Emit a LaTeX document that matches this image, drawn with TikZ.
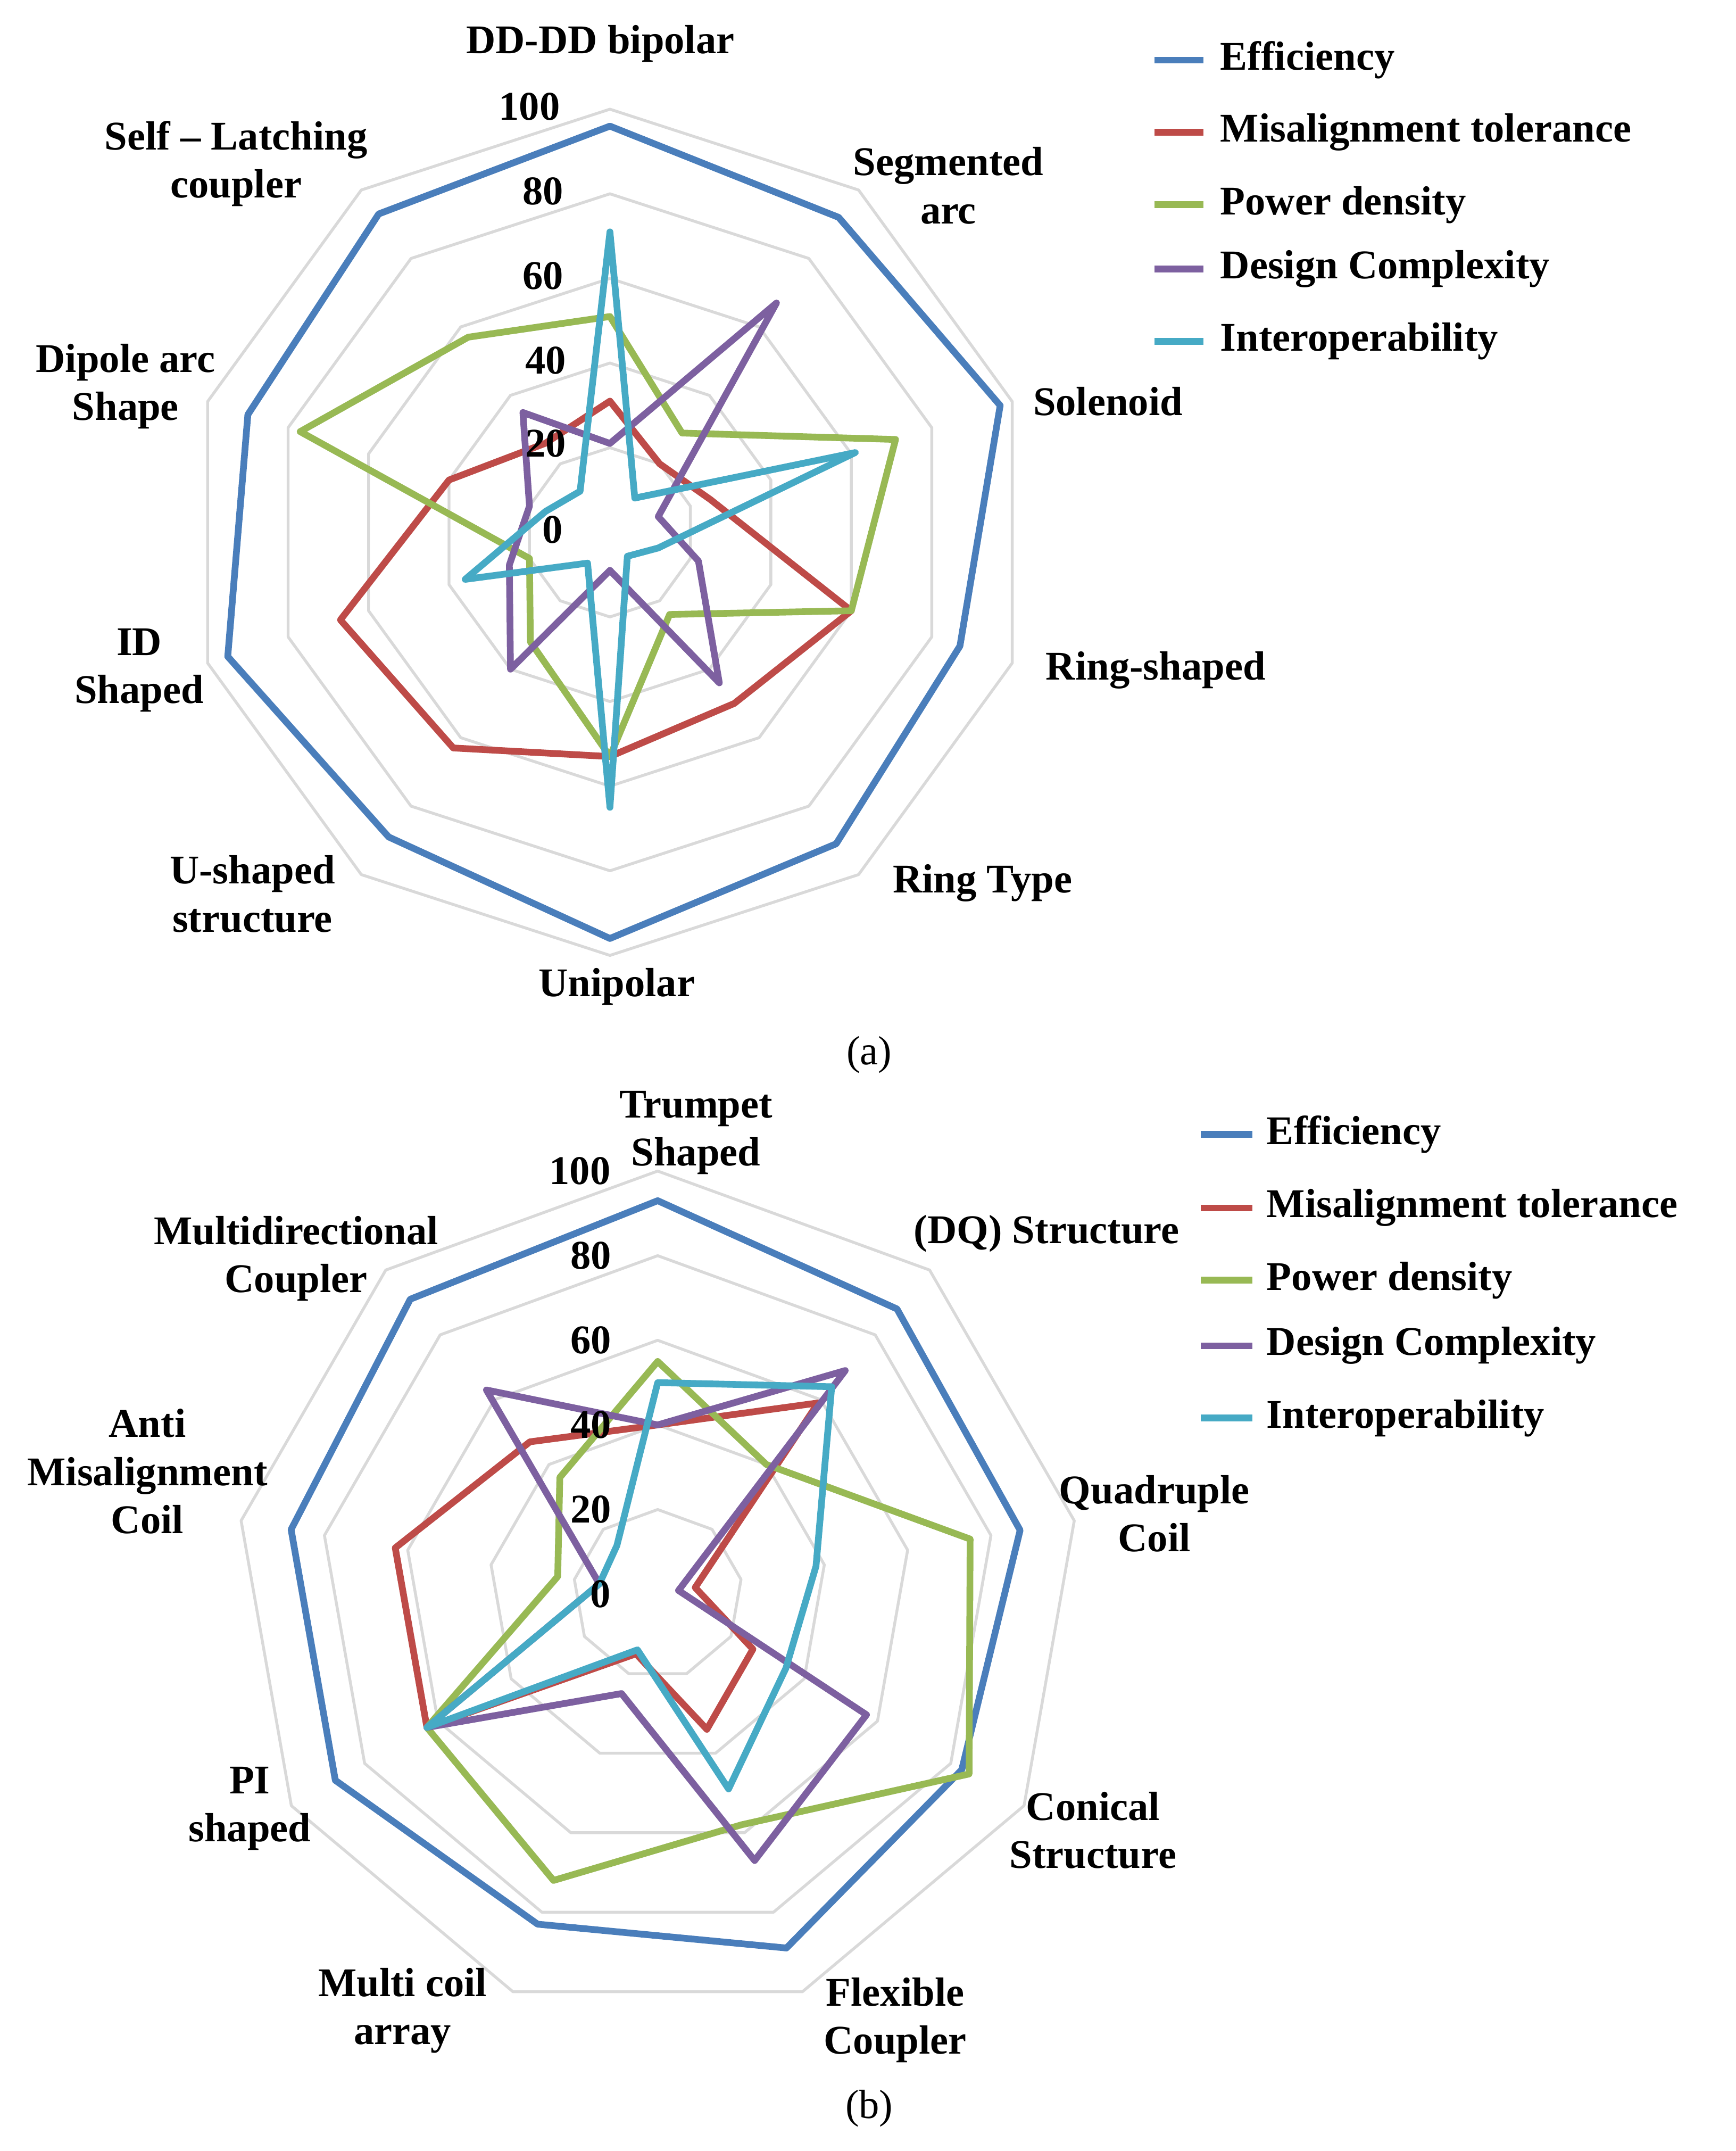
\documentclass[tikz,border=0pt]{standalone}
\usepackage{fontspec}
\setmainfont{Liberation Serif}
\begin{document}
\begin{tikzpicture}[x=0.02cm,y=-0.02cm,line join=round,
  lab/.style={font=\fontsize{17}{20}\selectfont\bfseries,align=center,inner sep=0},
  tick/.style={font=\fontsize{17}{20}\selectfont\bfseries,inner sep=0},
  grid/.style={draw=black!15,line width=1.2pt},
  eff/.style={draw=effc,line width=2.8pt},
  mis/.style={draw=misc,line width=2.8pt},
  pow/.style={draw=powc,line width=2.8pt},
  des/.style={draw=desc,line width=2.8pt},
  inter/.style={draw=intc,line width=2.8pt}]
\definecolor{effc}{HTML}{4A7EBB}
\definecolor{misc}{HTML}{BE4B48}
\definecolor{powc}{HTML}{98B954}
\definecolor{desc}{HTML}{7D60A0}
\definecolor{intc}{HTML}{46AAC5}
\newcommand\radarline[4]{%
 \foreach \v[count=\i from 0] in {#3}{\coordinate (p\i) at (\i*#2-90:\v*3.1);}
 \draw[#4] (p0) \foreach \j in {1,...,#1}{--(p\j)} -- cycle;}
\useasboundingbox (0,0) rectangle (1272,1576);
\fill[white] (0,0) rectangle (1272,1576);
% ---------- chart (a)
\begin{scope}[shift={(447,390)}]
 \foreach \r in {20,40,60,80,100}{\radarline{9}{36}{\r,\r,\r,\r,\r,\r,\r,\r,\r,\r}{grid}}
 \radarline{9}{36}{96,92,97,87,91,96,89,95,90,93}{eff}
 \radarline{9}{36}{31,20,25,60,50,53,63,67,40,26}{mis}
 \radarline{9}{36}{51,29,71,60,24,53,32,20,77,57}{pow}
 \radarline{9}{36}{21,67,12,22,44,9,40,25,20,35}{des}
 \radarline{9}{36}{71,10,61,12,7,65,9,36,16,12}{inter}
\end{scope}
\node[tick] (ta100) at (388,78) {100};
\node[tick] (ta80) at (398,140) {80};
\node[tick] (ta60) at (398,202) {60};
\node[tick] (ta40) at (400,264) {40};
\node[tick] (ta20) at (400,325) {20};
\node[tick] (ta0) at (405,388) {0};
\node[lab] (la1) at (440,32) {DD-DD bipolar};
\node[lab] (la2) at (695,136) {Segmented\\arc};
\node[lab] (la3) at (812,294) {Solenoid};
\node[lab] (la4) at (847,491) {Ring-shaped};
\node[lab] (la5) at (720,647) {Ring Type};
\node[lab] (la6) at (452,723) {Unipolar};
\node[lab] (la7) at (185,655) {U-shaped\\structure};
\node[lab] (la8) at (102,491) {ID\\Shaped};
\node[lab] (la9) at (92,283) {Dipole arc\\Shape};
\node[lab] (la10) at (173,120) {Self -- Latching\\coupler};
\node[font=\fontsize{17}{20}\selectfont] (capa) at (637,773) {(a)};
\foreach \t/\c/\y in {Efficiency/effc/44,Misalignment tolerance/misc/97,Power density/powc/150,Design Complexity/desc/197,Interoperability/intc/250}{
 \coordinate (a\y) at (846,\y); \coordinate (b\y) at (882,\y);
 \draw[draw=\c,line width=2.8pt] (a\y) -- (b\y);
 \node[lab,anchor=west] (lg\y) at (894,\y) {\t};}
% ---------- chart (b)
\begin{scope}[shift={(482,1168)}]
 \foreach \r in {20,40,60,80,100}{\radarline{8}{40}{\r,\r,\r,\r,\r,\r,\r,\r,\r}{grid}}
 \radarline{8}{40}{93,88,87,83,89,83,88,88,91}{eff}
 \radarline{8}{40}{40,59,9,26,34,15,63,63,47}{mis}
 \radarline{8}{40}{55,40,75,85,58,72,63,24,36}{pow}
 \radarline{8}{40}{40,69,5,57,67,25,63,14,63}{des}
 \radarline{8}{40}{50,64,38,35,49,14,63,14,15}{inter}
\end{scope}
\node[tick] (tb100) at (425,858) {100};
\node[tick] (tb80) at (433,920) {80};
\node[tick] (tb60) at (433,982) {60};
\node[tick] (tb40) at (433,1044) {40};
\node[tick] (tb20) at (433,1106) {20};
\node[tick] (tb0) at (440,1168) {0};
\node[lab] (lb1) at (510,830) {Trumpet\\Shaped};
\node[lab] (lb2) at (767,904) {(DQ) Structure};
\node[lab] (lb3) at (846,1109) {Quadruple\\Coil};
\node[lab] (lb4) at (801,1341) {Conical\\Structure};
\node[lab] (lb5) at (656,1480) {Flexible\\Coupler};
\node[lab] (lb6) at (295,1473) {Multi coil\\array};
\node[lab] (lb7) at (183,1325) {PI\\shaped};
\node[lab] (lb8) at (108,1078) {Anti\\Misalignment\\Coil};
\node[lab] (lb9) at (217,922) {Multidirectional\\Coupler};
\node[font=\fontsize{17}{20}\selectfont] (capb) at (637,1545) {(b)};
\foreach \t/\c/\y in {Efficiency/effc/831,Misalignment tolerance/misc/885,Power density/powc/938,Design Complexity/desc/986,Interoperability/intc/1039}{
 \coordinate (a\y) at (880,\y); \coordinate (b\y) at (918,\y);
 \draw[draw=\c,line width=2.8pt] (a\y) -- (b\y);
 \node[lab,anchor=west] (lg\y) at (928,\y) {\t};}
\end{tikzpicture}
\end{document}
